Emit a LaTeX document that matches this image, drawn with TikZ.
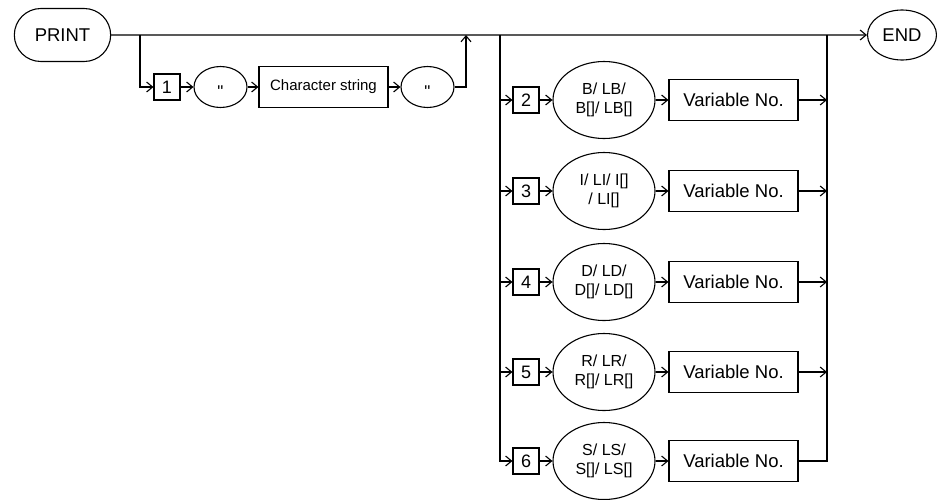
\documentclass[tikz,border=0pt]{standalone}
\usepackage{fontspec}
\setmainfont{Liberation Sans}
\usetikzlibrary{arrows.meta,shapes.misc,shapes.geometric}

\begin{document}
\begin{tikzpicture}[
    x=1pt, y=-1pt,
    >={Straight Barb[length=6pt,width=10pt]},
    line width=1.1pt,
    term/.style={
        draw,
        rounded rectangle,
        minimum width=103pt,
        minimum height=53pt,
        font=\fontsize{18.5pt}{21pt}\selectfont
    },
    stopterm/.style={
        draw,
        ellipse,
        inner sep=0pt,
        minimum width=69pt,
        minimum height=50pt,
        font=\fontsize{18.5pt}{21pt}\selectfont
    },
    numbox/.style={
        draw,
        inner sep=0pt,
        minimum width=26pt,
        minimum height=26pt,
        font=\fontsize{18pt}{21pt}\selectfont
    },
    strbox/.style={
        draw,
        inner sep=0pt,
        minimum width=129pt,
        minimum height=41pt,
        font=\fontsize{15pt}{18pt}\selectfont
    },
    quote/.style={
        draw,
        ellipse,
        inner sep=0pt,
        minimum width=53pt,
        minimum height=41pt,
        font=\fontsize{17pt}{18pt}\selectfont
    },
    typeell/.style={
        draw,
        ellipse,
        inner sep=0pt,
        minimum width=102pt,
        minimum height=77pt,
        align=center,
        font=\fontsize{16pt}{19pt}\selectfont
    },
    varbox/.style={
        draw,
        inner sep=0pt,
        minimum width=129pt,
        minimum height=41pt,
        font=\fontsize{18.5pt}{21pt}\selectfont
    },
    arr/.style={->}
]
    \useasboundingbox (0,0) rectangle (937,499);

    % main path
    \node[term] (print) at (62.5,35) {PRINT};
    \node[stopterm] (stop) at (902,35) {END};

    \coordinate (split) at (140,35);
    \coordinate (join) at (466,35);
    \coordinate (busL) at (500,35);
    \coordinate (busR) at (827,35);

    \draw[arr] (print) -- (stop);

    % character string branch
    \node[numbox] (num1) at (167,87) {1};
    \node[quote] (q1) at (220.5,87) {\smash{\raisebox{-10pt}{\textquotedbl}}};
    \node[strbox] (str) at (323.5,87) {Character string};
    \node[quote] (q2) at (427.5,87) {\smash{\raisebox{-10pt}{\textquotedbl}}};

    \draw[arr] (split) |- (num1);
    \draw[arr] (num1) -- (q1);
    \draw[arr] (q1) -- (str);
    \draw[arr] (str) -- (q2);
    \draw[arr] (q2) -| (join);

    % variable branches
    \node[numbox] (num2) at (526,100) {2};
    \node[typeell] (type2) at (604,100) {B/ LB/\\B[]/ LB[]};
    \node[varbox] (var2) at (733.5,100) {Variable No.};

    \node[numbox] (num3) at (526,191) {3};
    \node[typeell] (type3) at (604,191) {I/ LI/ I[]\\/ LI[]};
    \node[varbox] (var3) at (733.5,191) {Variable No.};

    \node[numbox] (num4) at (526,282) {4};
    \node[typeell] (type4) at (604,282) {D/ LD/\\D[]/ LD[]};
    \node[varbox] (var4) at (733.5,282) {Variable No.};

    \node[numbox] (num5) at (526,372) {5};
    \node[typeell] (type5) at (604,372) {R/ LR/\\R[]/ LR[]};
    \node[varbox] (var5) at (733.5,372) {Variable No.};

    \node[numbox] (num6) at (526,461) {6};
    \node[typeell] (type6) at (604,461) {S/ LS/\\S[]/ LS[]};
    \node[varbox] (var6) at (733.5,461) {Variable No.};

    \draw[arr] (busL) |- (num6);
    \draw[arr] (busL |- num2) -- (num2);
    \draw[arr] (busL |- num3) -- (num3);
    \draw[arr] (busL |- num4) -- (num4);
    \draw[arr] (busL |- num5) -- (num5);

    \draw[arr] (num2) -- (type2);
    \draw[arr] (num3) -- (type3);
    \draw[arr] (num4) -- (type4);
    \draw[arr] (num5) -- (type5);
    \draw[arr] (num6) -- (type6);

    \draw[arr] (type2) -- (var2);
    \draw[arr] (type3) -- (var3);
    \draw[arr] (type4) -- (var4);
    \draw[arr] (type5) -- (var5);
    \draw[arr] (type6) -- (var6);

    \draw[arr] (var2) -- (busR |- var2);
    \draw[arr] (var3) -- (busR |- var3);
    \draw[arr] (var4) -- (busR |- var4);
    \draw[arr] (var5) -- (busR |- var5);
    \draw (var6) -| (busR);
\end{tikzpicture}
\end{document}
